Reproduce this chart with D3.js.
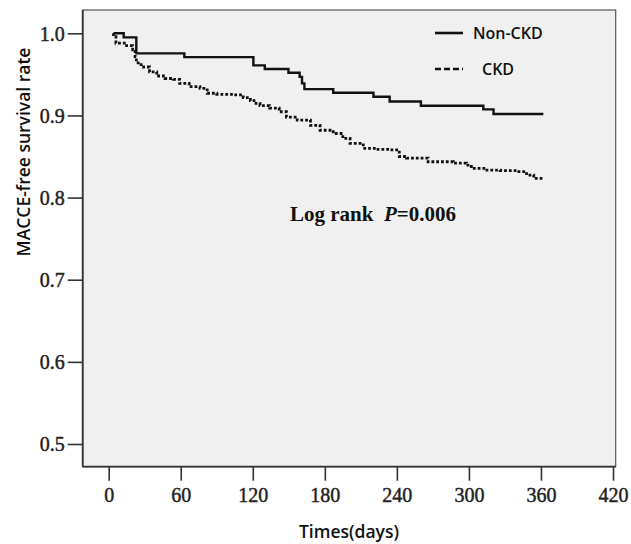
<!DOCTYPE html>
<html><head><meta charset="utf-8">
<script src="https://cdn.jsdelivr.net/npm/d3@7"></script>
<style>body{margin:0;background:#fff}</style>
</head><body>
<svg id="c" width="631" height="544"></svg>
<script>
const xTicks = [0, 60, 120, 180, 240, 300, 360, 420];
const yTicks = [0.5, 0.6, 0.7, 0.8, 0.9, 1.0];
const seriesNames = ["Non-CKD", "CKD"];
// Non-CKD: step times (days) and survival after each step
const nonCkdTimes = [4, 12.5, 23, 63, 120.5, 130, 149.7, 159, 161, 163, 187, 220.5, 234, 260, 312, 320.5, 362];
const nonCkdSurv  = [1.0, 0.995, 0.9756, 0.971, 0.961, 0.9565, 0.952, 0.947, 0.939, 0.932, 0.9277, 0.9228, 0.917, 0.9118, 0.9074, 0.9017, 0.9017];
// CKD
const ckdTimes = [4, 6, 13, 20, 22, 23, 27, 34, 40, 47, 54, 59, 67, 76, 82, 90, 104, 112, 118, 121, 126, 134, 142, 148, 157, 168, 176, 187, 195, 201, 212, 223, 234, 242, 248, 266, 287, 298, 302, 315, 326, 340, 348, 354, 362];
const ckdSurv  = [0.996, 0.988, 0.985, 0.980, 0.9715, 0.964, 0.959, 0.953, 0.948, 0.945, 0.944, 0.939, 0.935, 0.933, 0.927, 0.9257, 0.925, 0.9216, 0.918, 0.9147, 0.912, 0.909, 0.9045, 0.898, 0.8944, 0.888, 0.882, 0.878, 0.872, 0.866, 0.86, 0.8587, 0.858, 0.85, 0.848, 0.8436, 0.842, 0.8396, 0.8356, 0.8335, 0.8327, 0.8315, 0.8274, 0.8234, 0.8234];

const svg = d3.select("#c");
const L = 82.7, R = 615.7, T = 10, B = 466.7;
const x = d3.scaleLinear().domain([0, 420]).range([108.7, 613]);
const y = d3.scaleLinear().domain([0.5, 1.0]).range([444, 33.3]);

svg.append("rect").attr("x", L).attr("y", T).attr("width", R - L).attr("height", B - T)
  .attr("fill", "#f0f0f0").attr("stroke", "#555").attr("stroke-width", 1.2);

// axes
const xa = svg.append("g").attr("transform", `translate(0,${B})`)
  .call(d3.axisBottom(x).tickValues(xTicks).tickSize(14).tickSizeOuter(0).tickPadding(7));
const ya = svg.append("g").attr("transform", `translate(${L},0)`)
  .call(d3.axisLeft(y).tickValues(yTicks).tickSize(15).tickSizeOuter(0).tickPadding(3).tickFormat(d3.format(".1f")));
[xa, ya].forEach(g => {
  g.select(".domain").remove();
  g.selectAll("line").attr("stroke", "#333").attr("stroke-width", 1.6);
  g.selectAll("text").attr("fill", "#222").attr("font-family", "Liberation Serif, serif")
    .attr("font-weight", "normal").attr("stroke", "#222").attr("stroke-width", 0.45).attr("font-size", 20);
});
ya.selectAll("text").attr("dy", "0.34em");
// left & bottom axis lines
svg.append("line").attr("x1", L).attr("x2", L).attr("y1", T).attr("y2", B).attr("stroke", "#333").attr("stroke-width", 1.8);
svg.append("line").attr("x1", L).attr("x2", R).attr("y1", B).attr("y2", B).attr("stroke", "#333").attr("stroke-width", 1.8);

const line = d3.line().x(d => x(d[0])).y(d => y(d[1])).curve(d3.curveStepAfter);
const nonData = nonCkdTimes.map((t, i) => [t, nonCkdSurv[i]]);
const ckdData = [[4, 1.0]].concat(ckdTimes.map((t, i) => [t, ckdSurv[i]]));

svg.append("path").attr("d", line(nonData)).attr("fill", "none").attr("stroke", "#111").attr("stroke-width", 2.4);
svg.append("path").attr("d", line(ckdData)).attr("fill", "none").attr("stroke", "#111").attr("stroke-width", 2.8)
  .attr("stroke-dasharray", "2.8,2");

// legend
svg.append("line").attr("x1", 435).attr("x2", 463).attr("y1", 33).attr("y2", 33).attr("stroke", "#111").attr("stroke-width", 2.6);
svg.append("line").attr("x1", 435).attr("x2", 463).attr("y1", 69).attr("y2", 69).attr("stroke", "#111").attr("stroke-width", 2.6).attr("stroke-dasharray", "6,3");
const lf = "Open Sans, sans-serif";
svg.append("text").attr("x", 473).attr("y", 39).text(seriesNames[0]).attr("font-family", lf).attr("font-size", 16).attr("font-weight", 600).attr("fill", "#111");
svg.append("text").attr("x", 482).attr("y", 75).text(seriesNames[1]).attr("font-family", lf).attr("font-size", 16).attr("font-weight", 600).attr("fill", "#111");

// log rank
const lr = svg.append("text").attr("x", 290).attr("y", 221).attr("font-family", "Liberation Serif, serif")
  .attr("font-size", 21).attr("font-weight", "bold").attr("fill", "#111");
lr.append("tspan").text("Log rank\u00a0\u00a0");
lr.append("tspan").attr("font-style", "italic").text("P");
lr.append("tspan").text("=0.006");

// axis titles
svg.append("text").attr("transform", "translate(30,152) rotate(-90)").attr("text-anchor", "middle")
  .attr("font-family", lf).attr("font-size", 17.5).attr("font-weight", 600).attr("fill", "#111").text("MACCE-free survival rate");
svg.append("text").attr("x", 349).attr("y", 538).attr("text-anchor", "middle")
  .attr("font-family", lf).attr("font-size", 17.5).attr("font-weight", 600).attr("fill", "#111").text("Times(days)");
</script>
</body></html>
